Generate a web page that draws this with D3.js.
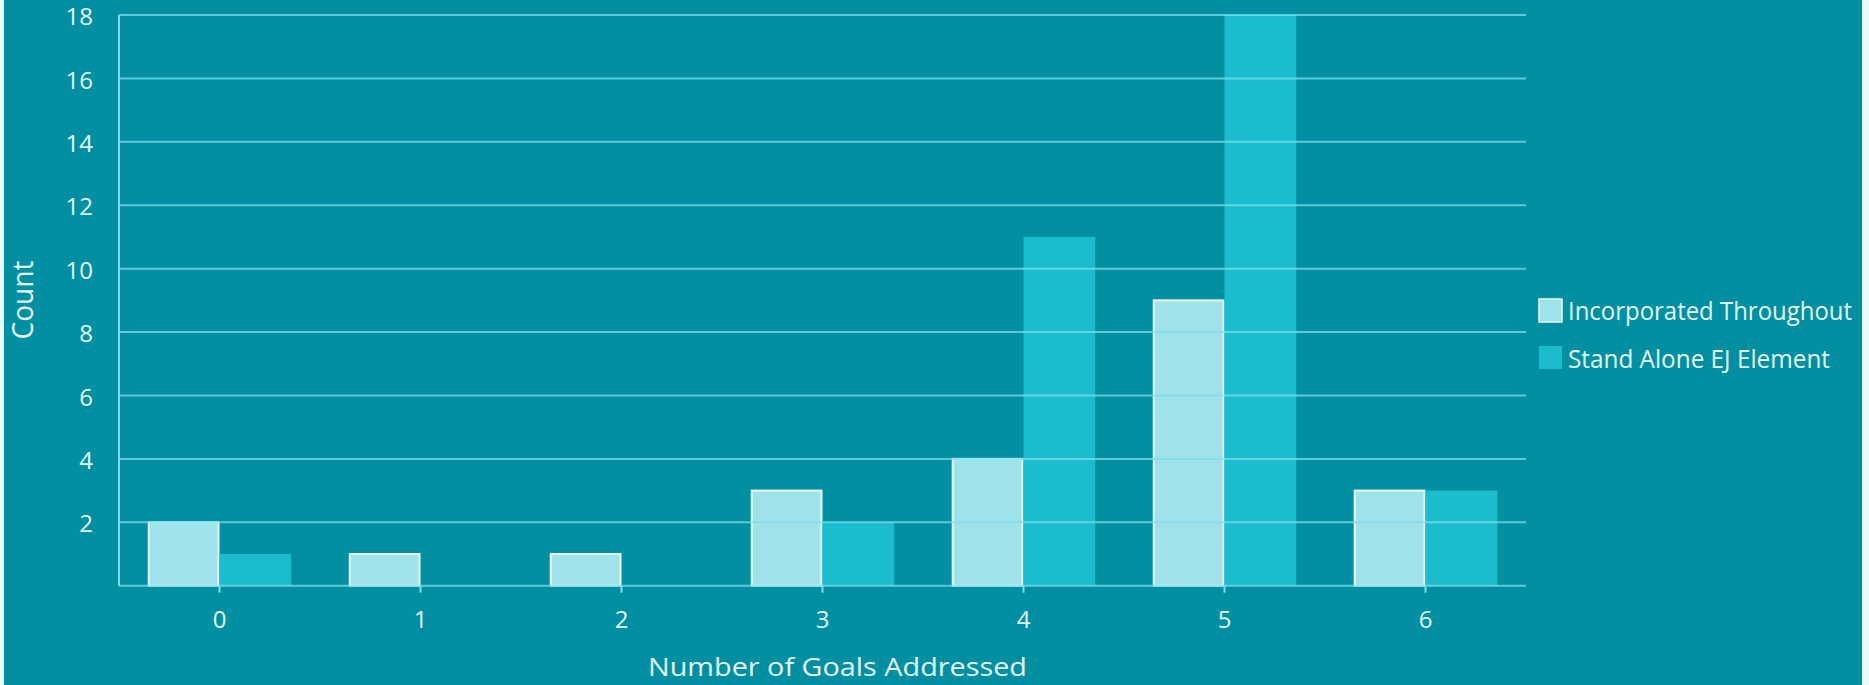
<!DOCTYPE html>
<html>
<head>
<meta charset="utf-8">
<script src="https://cdn.jsdelivr.net/npm/d3@7"></script>
<style>
  html, body { margin: 0; padding: 0; background: #e8fafc; }
  svg { display: block; }
  text { font-family: "Open Sans", "Noto Sans", sans-serif; fill: #e2f8fb; }
</style>
</head>
<body>
<svg id="chart" width="1869" height="685"></svg>
<script>
// ---- data ----
const categories = ["0", "1", "2", "3", "4", "5", "6"];
const seriesNames = ["Incorporated Throughout", "Stand Alone EJ Element"];
const incorporatedThroughout = [2, 1, 1, 3, 4, 9, 3];
const standAloneEJ = [1, 0, 0, 2, 11, 18, 3];
const yTicks = [2, 4, 6, 8, 10, 12, 14, 16, 18];
const xTitle = "Number of Goals Addressed";
const yTitle = "Count";

(function () {
// ---- styles ----
const colors = ["#9fe2ea", "#1bbcce"];
const strokes = ["#e8fcfe", "none"];
const gridColor = "#7fdcec";

const svg = d3.select("#chart");
svg.append("rect").attr("x", 4).attr("y", 0).attr("width", 1858).attr("height", 685).attr("fill", "#028fa1");

const pLeft = 119, pRight = 1526, pTop = 15, pBottom = 585.7;

const x = d3.scaleBand().domain(categories).range([pLeft, pRight]).padding(0);
const xInner = d3.scaleBand().domain(seriesNames)
  .range([x.bandwidth() * 0.143, x.bandwidth() * 0.857]).padding(0);
const y = d3.scaleLinear().domain([0, 18]).range([pBottom, pTop]);

const rows = categories.map((c, i) => ({ cat: c, values: [incorporatedThroughout[i], standAloneEJ[i]] }));

// bars
const groups = svg.append("g").selectAll("g").data(rows).join("g")
  .attr("transform", d => `translate(${x(d.cat)},0)`);
groups.selectAll("rect").data(d => d.values.map((v, k) => ({ v, k })))
  .join("rect")
  .attr("x", d => xInner(seriesNames[d.k]) + (d.k === 0 ? 1 : 0))
  .attr("width", d => xInner.bandwidth() - (d.k === 0 ? 2 : 0))
  .attr("y", d => y(d.v))
  .attr("height", d => Math.max(0, y(0) - y(d.v)))
  .attr("fill", d => colors[d.k])
  .attr("stroke", d => d.v > 0 ? strokes[d.k] : "none")
  .attr("stroke-width", 2);

// gridlines (drawn over bars)
const grid = svg.append("g");
grid.selectAll("line").data([0].concat(yTicks)).join("line")
  .attr("x1", pLeft).attr("x2", pRight)
  .attr("y1", d => y(d)).attr("y2", d => y(d))
  .attr("stroke", gridColor).attr("stroke-width", 2).attr("stroke-opacity", 0.75);

// y axis
const yAxis = svg.append("g").attr("transform", `translate(${pLeft},2)`)
  .call(d3.axisLeft(y).tickValues(yTicks).tickSize(0).tickPadding(26));
yAxis.select(".domain").remove();
yAxis.selectAll("text").attr("font-size", 24).attr("fill", "#e2f8fb")
  .style("font-family", '"Open Sans", "Noto Sans", sans-serif');
svg.append("line").attr("x1", pLeft).attr("x2", pLeft).attr("y1", pTop).attr("y2", pBottom)
  .attr("stroke", gridColor).attr("stroke-width", 2);

// x axis
const xAxis = svg.append("g").attr("transform", `translate(0,${pBottom})`)
  .call(d3.axisBottom(x).tickSize(7).tickPadding(18));
xAxis.select(".domain").remove();
xAxis.selectAll(".tick line").attr("stroke", gridColor).attr("stroke-width", 2);
xAxis.selectAll("text").attr("font-size", 24).attr("fill", "#e2f8fb")
  .style("font-family", '"Open Sans", "Noto Sans", sans-serif');

// axis titles
svg.append("text").attr("x", 837.5).attr("y", 676).attr("text-anchor", "middle")
  .attr("font-size", 26).attr("textLength", 379).attr("lengthAdjust", "spacingAndGlyphs")
  .text(xTitle);
svg.append("text").attr("transform", "translate(33,300) rotate(-90)").attr("text-anchor", "middle")
  .attr("font-size", 30).attr("textLength", 79).attr("lengthAdjust", "spacingAndGlyphs")
  .text(yTitle);

// legend
const legend = svg.append("g").selectAll("g").data(seriesNames).join("g");
legend.append("rect").attr("x", 1539).attr("y", (d, i) => 299 + i * 47)
  .attr("width", 23).attr("height", 23)
  .attr("fill", (d, i) => colors[i])
  .attr("stroke", (d, i) => strokes[i]).attr("stroke-width", 1.5);
legend.append("text").attr("x", 1568).attr("y", (d, i) => 320 + i * 48).attr("font-size", 25)
  .attr("textLength", (d, i) => [284, 262][i]).attr("lengthAdjust", "spacingAndGlyphs")
  .text(d => d);
})();
</script>
</body>
</html>
